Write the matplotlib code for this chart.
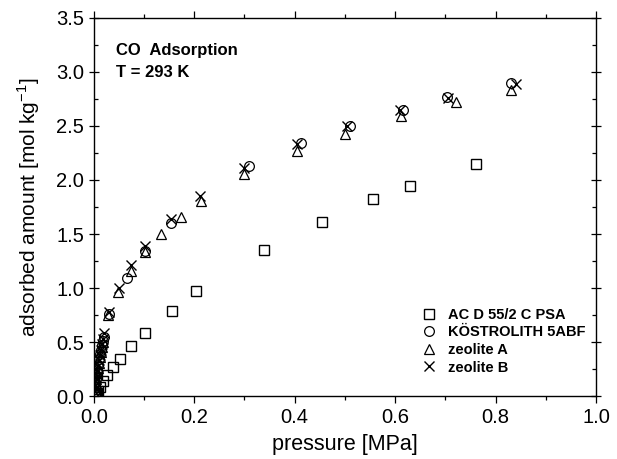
import matplotlib
matplotlib.use("Agg")
import matplotlib.pyplot as plt
from matplotlib.ticker import MultipleLocator, FormatStrFormatter

plt.rcParams['font.family'] = ['Liberation Sans', 'DejaVu Sans']

# AC D 55/2 C PSA
p_ac = [0.002, 0.004, 0.006, 0.009, 0.012, 0.019, 0.027, 0.038, 0.053, 0.075,
        0.102, 0.155, 0.203, 0.339, 0.455, 0.556, 0.630, 0.761]
q_ac = [0.01, 0.02, 0.03, 0.05, 0.08, 0.14, 0.20, 0.27, 0.34, 0.46,
        0.58, 0.79, 0.97, 1.35, 1.61, 1.82, 1.94, 2.15]

# KOESTROLITH 5ABF
p_ko = [0.001, 0.002, 0.003, 0.004, 0.005, 0.006, 0.008, 0.010, 0.012, 0.014,
        0.016, 0.018, 0.020, 0.031, 0.066, 0.102, 0.153, 0.31, 0.413, 0.51,
        0.616, 0.703, 0.83]
q_ko = [0.04, 0.08, 0.12, 0.16, 0.20, 0.24, 0.29, 0.34, 0.39, 0.43,
        0.47, 0.51, 0.55, 0.76, 1.09, 1.34, 1.60, 2.13, 2.34, 2.50,
        2.65, 2.77, 2.90]

# zeolite A
p_za = [0.001, 0.002, 0.004, 0.005, 0.007, 0.009, 0.011, 0.013, 0.015, 0.017,
        0.019, 0.029, 0.048, 0.075, 0.102, 0.134, 0.173, 0.213, 0.30, 0.405,
        0.50, 0.612, 0.722, 0.83]
q_za = [0.03, 0.07, 0.12, 0.16, 0.21, 0.26, 0.31, 0.36, 0.41, 0.45,
        0.50, 0.75, 0.96, 1.16, 1.33, 1.50, 1.66, 1.81, 2.06, 2.27,
        2.43, 2.59, 2.72, 2.83]

# zeolite B
p_zb = [0.001, 0.002, 0.003, 0.005, 0.006, 0.008, 0.010, 0.012, 0.014, 0.016,
        0.018, 0.020, 0.030, 0.050, 0.075, 0.102, 0.153, 0.211, 0.30, 0.405,
        0.505, 0.61, 0.705, 0.84]
q_zb = [0.05, 0.09, 0.14, 0.18, 0.23, 0.28, 0.33, 0.38, 0.43, 0.48,
        0.53, 0.58, 0.78, 1.00, 1.21, 1.39, 1.64, 1.85, 2.11, 2.33,
        2.50, 2.65, 2.76, 2.89]

fig = plt.figure(figsize=(6.17, 4.59), dpi=100)
ax = fig.add_axes([0.152, 0.137, 0.814, 0.824])

ms = 7
ax.plot(p_ac, q_ac, 's', ms=ms - 0.5, mfc='none', mec='black', mew=1.0, label='AC D 55/2 C PSA')
ax.plot(p_ko, q_ko, 'o', ms=ms, mfc='none', mec='black', mew=0.9, label='KÖSTROLITH 5ABF')
ax.plot(p_za, q_za, '^', ms=ms + 0.5, mfc='none', mec='black', mew=0.9, label='zeolite A')
ax.plot(p_zb, q_zb, 'x', ms=ms + 0.5, mfc='none', mec='black', mew=1.0, label='zeolite B')

ax.set_xlim(0, 1.0)
ax.set_ylim(0, 3.5)
ax.xaxis.set_major_locator(MultipleLocator(0.2))
ax.xaxis.set_minor_locator(MultipleLocator(0.1))
ax.yaxis.set_major_locator(MultipleLocator(0.5))
ax.yaxis.set_minor_locator(MultipleLocator(0.25))
ax.xaxis.set_major_formatter(FormatStrFormatter('%.1f'))
ax.yaxis.set_major_formatter(FormatStrFormatter('%.1f'))

for s in ax.spines.values():
    s.set_linewidth(1.0)

ax.tick_params(which='both', top=True, right=True, labelsize=14.5, width=0.9)
ax.tick_params(axis='x', which='major', direction='out', length=5)
ax.tick_params(axis='x', which='minor', direction='out', length=3)
ax.tick_params(axis='y', which='major', direction='inout', length=7)
ax.tick_params(axis='y', which='minor', direction='in', length=3)
ax.tick_params(which='both', labeltop=False, labelright=False)

ax.set_xlabel('pressure [MPa]', fontsize=15.5, labelpad=5)
ax.set_ylabel('adsorbed amount [mol kg$^{\\mathregular{-1}}$]', fontsize=15, labelpad=10)

ax.text(0.045, 0.915, 'CO  Adsorption', transform=ax.transAxes, fontsize=12,
        fontweight='bold', va='center')
ax.text(0.045, 0.855, 'T = 293 K', transform=ax.transAxes, fontsize=12,
        fontweight='bold', va='center')

leg = ax.legend(loc='lower right', bbox_to_anchor=(1.0, 0.03), frameon=False,
                prop={'weight': 'bold', 'size': 10.5}, handletextpad=0.8,
                labelspacing=0.25, borderaxespad=0.3, handlelength=1.0)

fig.savefig('out.png', dpi=100)
